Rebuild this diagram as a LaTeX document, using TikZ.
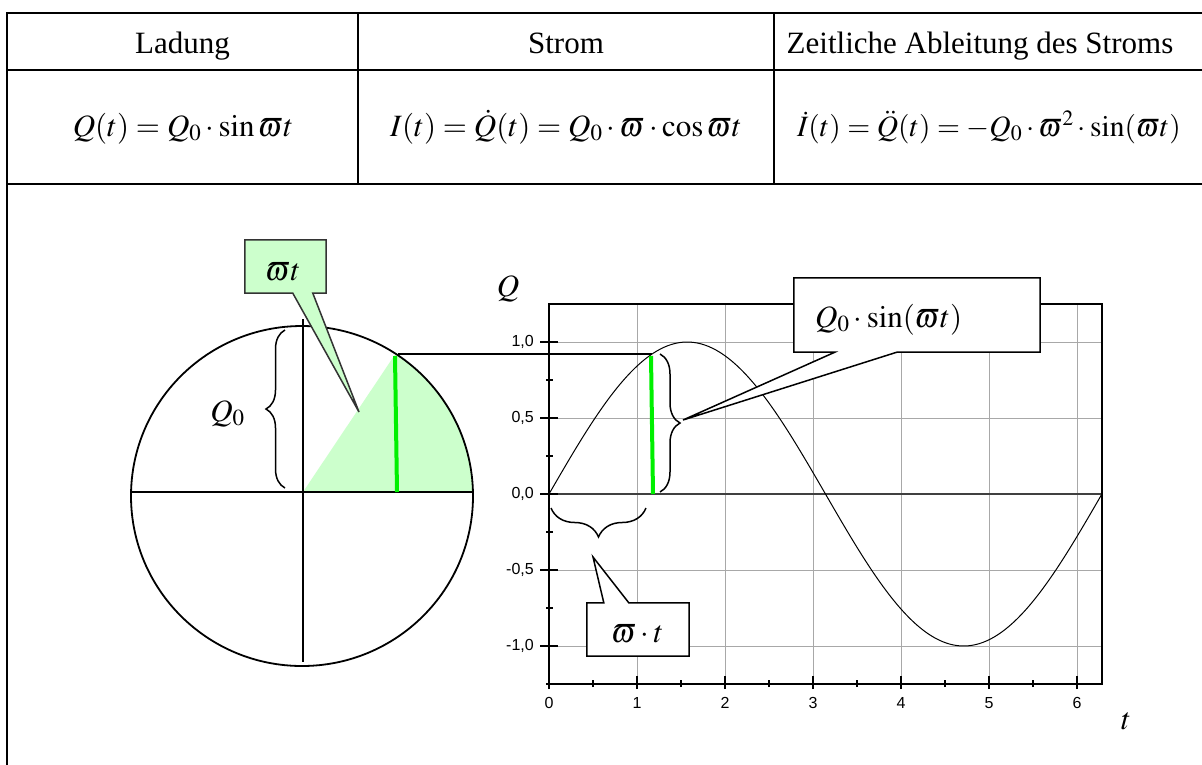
\documentclass[tikz,border=0pt]{standalone}
\usepackage{mathptmx}
\usepackage{fontspec}
\setmainfont{Liberation Serif}
\newfontfamily\axisfont{Liberation Sans}
\usetikzlibrary{calc,decorations.pathreplacing}
\definecolor{lightg}{HTML}{CCFFCC}
\definecolor{brightg}{HTML}{00F000}
\definecolor{gridc}{HTML}{A8A8A8}
\definecolor{dgray}{HTML}{333333}
\begin{document}
\begin{tikzpicture}[x=1pt,y=-1pt,
  every node/.style={font=\fontsize{31}{37}\selectfont, inner sep=0pt},
  tbl/.style={line width=2.4pt, line cap=rect},
  circline/.style={line width=1.8pt},
  axline/.style={line width=1.5pt},
  gline/.style={line width=4pt, brightg},
  conn/.style={line width=1.7pt},
  mybrace/.style={decorate, decoration={brace, amplitude=#1}, line width=1.5pt},
  gridline/.style={line width=1pt, gridc},
  zeroline/.style={line width=1.5pt, black!75},
  curve/.style={line width=1pt},
  frameline/.style={line width=2pt},
  tickline/.style={line width=1.5pt},
  ticklab/.style={font=\axisfont\fontsize{16}{19}\selectfont},
  callbox/.style={line width=1.5pt, line join=miter}
]
\fill[white] (0,0) rectangle (1202,764);
\useasboundingbox (0,0) rectangle (1202,764);

% table
\draw[tbl] (7,770) -- (7,13) -- (1210,13);
\draw[tbl] (7,70) -- (1210,70);
\draw[tbl] (7,184) -- (1210,184);
\draw[tbl] (358,13) -- (358,184);
\draw[tbl] (774,13) -- (774,184);

\node[anchor=base] (h1) at (182.5,53) {Ladung};
\node[anchor=base] (h2) at (566,53) {Strom};
\node[anchor=base] (h3) at (980,53) {Zeitliche Ableitung des Stroms};
\node[anchor=base] (f1) at (183,136) {$Q(t)=Q_0\cdot\sin\varpi t$};
\node[anchor=base] (f2) at (566,136) {$I(t)=\dot Q(t)=Q_0\cdot\varpi\cdot\cos\varpi t$};
\node[anchor=base, font=\fontsize{29.5}{35}\selectfont] (f3) at (989,136) {$\dot I(t)=\ddot Q(t)=-Q_0\cdot\varpi^2\cdot\sin(\varpi t)$};

% circle
\coordinate (O) at (303,492);
\begin{scope}
  \clip (302,496) ellipse [x radius=171, y radius=170];
  \fill[lightg] (O) -- (397.4,350.9) -- (480,300) -- (480,492) -- cycle;
\end{scope}
\draw[circline] (302,496) ellipse [x radius=171, y radius=170];
\draw[axline] (131,492) -- (473,492);
\draw[axline] (303,319) -- (303,662);
\draw[gline] (395,356) -- (397,492);

% graph
\begin{scope}[shift={(549,494)}, x=88pt, y=152pt]
  \foreach \t in {1,...,6} \draw[gridline] (\t,-1.25) -- (\t,1.25);
  \foreach \q in {-1,-0.5,0.5,1} \draw[gridline] (0,\q) -- (2*pi,\q);
  \draw[zeroline] (0,0) -- (2*pi,0);
  \draw[curve] plot[domain=0:2*pi, samples=150, smooth] (\x,{sin(\x r)});
  \draw[frameline] (0,-1.25) rectangle (2*pi,1.25);
  \foreach \q in {-1,-0.5,0,0.5,1} \draw[tickline] (0,\q) ++(-9pt,0pt) -- ++(18pt,0pt);
  \foreach \q in {-1.25,-0.75,-0.25,0.25,0.75} \draw[tickline] (0,\q) ++(-3pt,0pt) -- ++(7pt,0pt);
  \foreach \t in {0,...,6} \draw[tickline] (\t,-1.25) ++(0pt,-5pt) -- ++(0pt,13pt);
  \foreach \t in {0.5,1.5,2.5,3.5,4.5,5.5} \draw[tickline] (\t,-1.25) ++(0pt,-3pt) -- ++(0pt,7pt);
  \foreach \q/\l in {1/{1,0},0.5/{0,5},0/{0,0},-0.5/{-0,5},-1/{-1,0}}
    \node[ticklab, anchor=east] at (0,\q) [xshift=-15pt] {\l};
  \foreach \t in {0,...,6}
    \node[ticklab] at (\t,-1.25) [yshift=-19pt] {\t};
\end{scope}

\node[anchor=base] (qlab) at (508,296) {$Q$};
\node[anchor=base] (tlab) at (1126,729) {$t$};

% connector circle -> graph
\coordinate (cp) at (398,354);
\coordinate (gp) at (652,354);
\draw[conn] (cp) -- (gp);
\draw[gline] (651,356) -- (653,494);

% braces
\draw[mybrace=19pt] (285,488) -- (285,330);
\node[anchor=base] (q0) at (227.5,421) {$Q_0$};
\draw[mybrace=20pt] (660,354) -- (660,492);
\draw[mybrace=29pt] (646,508) -- (551,508);

% callout omega t (green)
\node[minimum width=81pt, minimum height=53pt] (wbox) at (285.5,266.5) {};
\coordinate (wtip) at (359,412);
\filldraw[callbox, fill=lightg, draw=dgray] (wbox.north west) -- (wbox.north east) -- (wbox.south east)
  -- ($(wbox.south west)+(68,0)$) -- (wtip) -- ($(wbox.south west)+(48,0)$) -- (wbox.south west) -- cycle;
\node[anchor=base] (wtext) at (283,280) {$\varpi t$};

% callout Q0 sin
\node[minimum width=246pt, minimum height=74pt] (sbox) at (917,315) {};
\coordinate (stip) at (683,420);
\filldraw[callbox, fill=white, draw=black] (sbox.north west) -- (sbox.north east) -- (sbox.south east)
  -- ($(sbox.south west)+(103,0)$) -- (stip) -- ($(sbox.south west)+(41,0)$) -- (sbox.south west) -- cycle;
\node[anchor=base west] (stext) at (815,327) {$Q_0\cdot\sin(\varpi t)$};

% callout omega . t
\node[minimum width=102pt, minimum height=53pt] (tbox) at (638,629.5) {};
\coordinate (ttip) at (593,557);
\filldraw[callbox, fill=white, draw=black] (tbox.south west) -- (tbox.north west)
  -- ($(tbox.north west)+(17,0)$) -- (ttip) -- ($(tbox.north west)+(42,0)$)
  -- (tbox.north east) -- (tbox.south east) -- cycle;
\node[anchor=base] (ttext) at (637.5,642) {$\varpi\cdot t$};
\end{tikzpicture}
\end{document}
